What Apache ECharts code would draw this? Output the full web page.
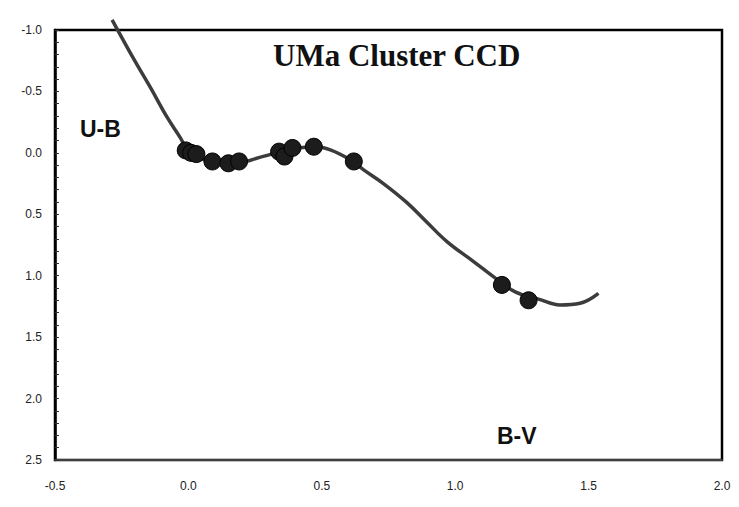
<!DOCTYPE html>
<html>
<head>
<meta charset="utf-8">
<script src="https://cdn.jsdelivr.net/npm/echarts@6/dist/echarts.min.js"></script>
<style>
html,body{margin:0;padding:0;background:#fff;}
#chart{width:739px;height:507px;}
</style>
</head>
<body>
<div id="chart"></div>
<script>
// Title and axis names
const chartTitle = 'UMa Cluster CCD';
const xName = 'B-V';
const yName = 'U-B';

// Observed cluster stars: B-V and U-B
const starBV = [-0.01, 0.01, 0.03, 0.09, 0.15, 0.19, 0.34, 0.36, 0.39, 0.47, 0.62, 1.175, 1.275];
const starUB = [-0.02, 0.0, 0.01, 0.07, 0.085, 0.07, -0.01, 0.03, -0.04, -0.05, 0.07, 1.075, 1.20];

// Standard main-sequence relation (curve)
const curveBV = [-0.286, -0.205, -0.142, -0.080, -0.030, 0.0, 0.045, 0.101, 0.195, 0.270, 0.345, 0.419, 0.476, 0.532, 0.607, 0.657, 0.731, 0.819, 0.894, 0.969, 1.069, 1.143, 1.225, 1.312, 1.393, 1.468, 1.537];
const curveUB = [-1.083, -0.765, -0.530, -0.290, -0.122, -0.01, 0.045, 0.075, 0.075, 0.035, -0.008, -0.041, -0.050, -0.024, 0.057, 0.138, 0.250, 0.405, 0.565, 0.722, 0.885, 1.007, 1.132, 1.190, 1.238, 1.224, 1.143];

// Axis ranges
const xMin = -0.5, xMax = 2.0, xStep = 0.5;
const yMin = -1.0, yMax = 2.5, yStep = 0.5;

const chart = echarts.init(document.getElementById('chart'), null, {renderer: 'svg'});
const fmt = v => v.toFixed(1);

chart.setOption({
  animation: false,
  backgroundColor: '#ffffff',
  title: {
    text: chartTitle,
    left: 268,
    top: 35,
    textStyle: {fontFamily: 'Liberation Serif', fontWeight: 'bold', fontSize: 31, color: '#111'}
  },
  grid: {left: 55, right: 17, top: 30, bottom: 47, show: true, borderColor: '#000', borderWidth: 2.5, backgroundColor: 'transparent'},
  xAxis: {
    type: 'value', min: xMin, max: xMax, interval: xStep,
    position: 'bottom',
    axisLine: {show: true, onZero: false, lineStyle: {color: '#555', width: 1.5}},
    axisTick: {show: false},
    splitLine: {show: false},
    axisLabel: {formatter: fmt, fontFamily: 'Liberation Sans', fontSize: 12, color: '#222', margin: 20}
  },
  yAxis: {
    type: 'value', inverse: true, min: yMin, max: yMax, interval: yStep,
    axisLine: {show: true, onZero: false, lineStyle: {color: '#000', width: 2.5}},
    axisTick: {show: true, inside: true, length: 4, lineStyle: {color: '#333'}},
    minorTick: {show: true, splitNumber: 5, length: 4, lineStyle: {color: '#333'}},
    splitLine: {show: false},
    axisLabel: {formatter: fmt, fontFamily: 'Liberation Sans', fontSize: 12, color: '#222', margin: 13}
  },
  graphic: [
    {type: 'text', left: 80, top: 117, style: {text: yName, font: 'bold 23px "Liberation Sans"', fill: '#111'}},
    {type: 'text', left: 497, top: 424, style: {text: xName, font: 'bold 23px "Liberation Sans"', fill: '#111'}}
  ],
  series: [
    {
      type: 'line',
      data: curveBV.map((x, i) => [x, curveUB[i]]),
      smooth: 0.4,
      showSymbol: false,
      symbol: 'none',
      clip: false,
      lineStyle: {color: '#3c3c3c', width: 3.5},
      z: 2
    },
    {
      type: 'scatter',
      data: starBV.map((x, i) => [x, starUB[i]]),
      symbol: 'circle',
      symbolSize: 17,
      itemStyle: {color: '#1c1c1c', borderColor: '#000', borderWidth: 1, opacity: 1},
      z: 3
    }
  ]
});
</script>
</body>
</html>
